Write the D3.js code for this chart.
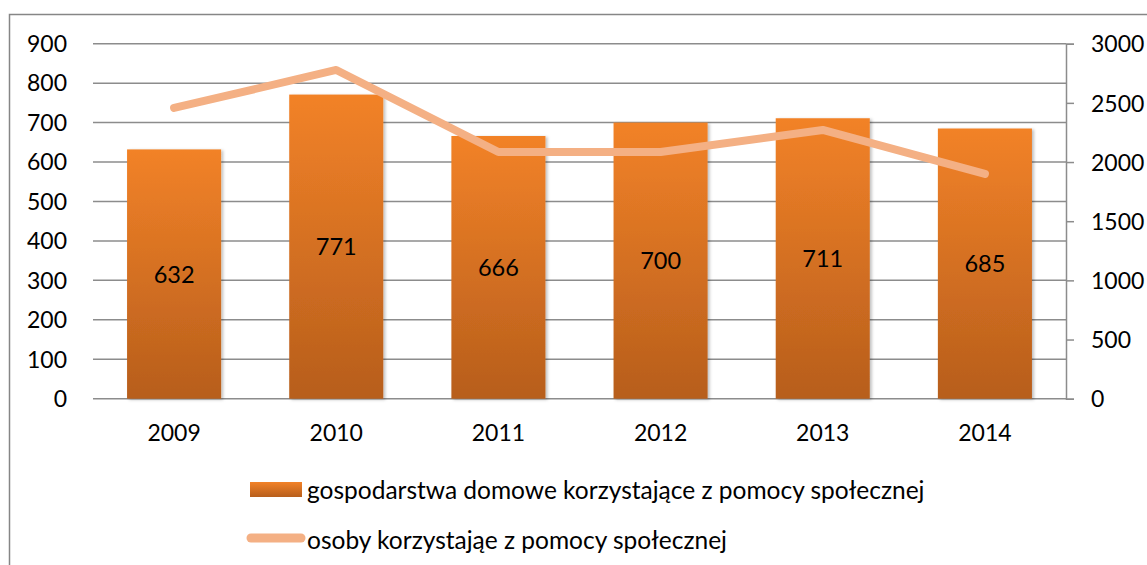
<!DOCTYPE html>
<html><head><meta charset="utf-8">
<script src="https://cdn.jsdelivr.net/npm/d3@7"></script>
<style>body{margin:0;background:#fff}svg{display:block}text{font-family:Lato,"Open Sans",sans-serif;fill:#000}</style>
</head><body><svg id="c" width="1147" height="565"></svg>
<script>
const years = ["2009","2010","2011","2012","2013","2014"];
const households = [632, 771, 666, 700, 711, 685];
const persons = [2457, 2778, 2085, 2085, 2271, 1899];
const leftTicks = [0,100,200,300,400,500,600,700,800,900];
const rightTicks = [0,500,1000,1500,2000,2500,3000];
const legendLabels = ["gospodarstwa domowe korzystające z pomocy społecznej", "osoby korzystająe z pomocy społecznej"];
</script>
<script>
const svg = d3.select("#c");
const W = 1147, H = 565;
const x0 = 93, x1 = 1066, yTop = 43.7, yBot = 398.7;
const x = d3.scaleBand().domain(years).range([x0, x1]).paddingInner(0.42).paddingOuter(0.21);
const yL = d3.scaleLinear().domain([0, 900]).range([yBot, yTop]);
const yR = d3.scaleLinear().domain([0, 3000]).range([yBot, yTop]);

const defs = svg.append("defs");
const g1 = defs.append("linearGradient").attr("id","barGrad").attr("x1",0).attr("y1",0).attr("x2",0).attr("y2",1);
g1.append("stop").attr("offset","0%").attr("stop-color","#F28228");
g1.append("stop").attr("offset","100%").attr("stop-color","#B75E1C");
const f = defs.append("filter").attr("id","sh").attr("x","-10%").attr("y","-10%").attr("width","130%").attr("height","130%");
f.append("feDropShadow").attr("dx",2).attr("dy",1).attr("stdDeviation",1.5).attr("flood-color","#000").attr("flood-opacity",0.25);

// border
svg.append("rect").attr("x",9.5).attr("y",14.5).attr("width",W+20).attr("height",H+20)
  .attr("fill","none").attr("stroke","#868686").attr("stroke-width",1.5);

// gridlines
svg.append("g").selectAll("line").data(leftTicks).join("line")
  .attr("x1",x0).attr("x2",x1).attr("y1",d=>yL(d)).attr("y2",d=>yL(d))
  .attr("stroke","#8c8c8c").attr("stroke-width",1.5);

// left axis labels
svg.append("g").selectAll("text").data(leftTicks).join("text")
  .attr("x",67).attr("y",d=>yL(d)).attr("dy","0.36em").attr("text-anchor","end")
  .attr("font-size",23).text(d=>d);

// right axis
const ra = d3.axisRight(yR).tickValues(rightTicks).tickFormat(d3.format("d")).tickSize(8).tickPadding(17);
const rg = svg.append("g").attr("transform",`translate(${x1},0)`).call(ra);
rg.select(".domain").attr("stroke","#8c8c8c").attr("stroke-width",1.5);
rg.selectAll(".tick line").attr("stroke","#8c8c8c").attr("stroke-width",1.5);
rg.selectAll(".tick text").attr("font-size",23).attr("font-family","Lato").attr("fill","#000").attr("dy","0.36em");

// bars
svg.append("g").selectAll("rect").data(households).join("rect")
  .attr("x",(d,i)=>x(years[i])).attr("width",x.bandwidth())
  .attr("y",d=>yL(d)).attr("height",d=>yBot-yL(d))
  .attr("fill","url(#barGrad)").attr("filter","url(#sh)");

// bar labels
svg.append("g").selectAll("text").data(households).join("text")
  .attr("x",(d,i)=>x(years[i])+x.bandwidth()/2).attr("y",d=>(yL(d)+yBot)/2)
  .attr("dy","0.36em").attr("text-anchor","middle").attr("font-size",23.5).text(d=>d);

// x labels
svg.append("g").selectAll("text").data(years).join("text")
  .attr("x",d=>x(d)+x.bandwidth()/2).attr("y",433).attr("dy","0.36em")
  .attr("text-anchor","middle").attr("font-size",23).text(d=>d);

// line
const line = d3.line().x((d,i)=>x(years[i])+x.bandwidth()/2).y(d=>yR(d));
svg.append("path").datum(persons).attr("d",line).attr("fill","none")
  .attr("stroke","#F4B084").attr("stroke-width",8).attr("stroke-linecap","round").attr("stroke-linejoin","round");

// legend
const lg = svg.append("g");
lg.append("rect").attr("x",250).attr("y",482).attr("width",52).attr("height",15).attr("fill","url(#barGrad)");
lg.append("text").attr("x",307).attr("y",490).attr("dy","0.36em").attr("font-size",24.5).text(legendLabels[0]);
lg.append("line").attr("x1",251).attr("x2",301).attr("y1",538).attr("y2",538)
  .attr("stroke","#F4B084").attr("stroke-width",9).attr("stroke-linecap","round");
lg.append("text").attr("x",307).attr("y",540).attr("dy","0.36em").attr("font-size",24.5).text(legendLabels[1]);
</script>
</body></html>
